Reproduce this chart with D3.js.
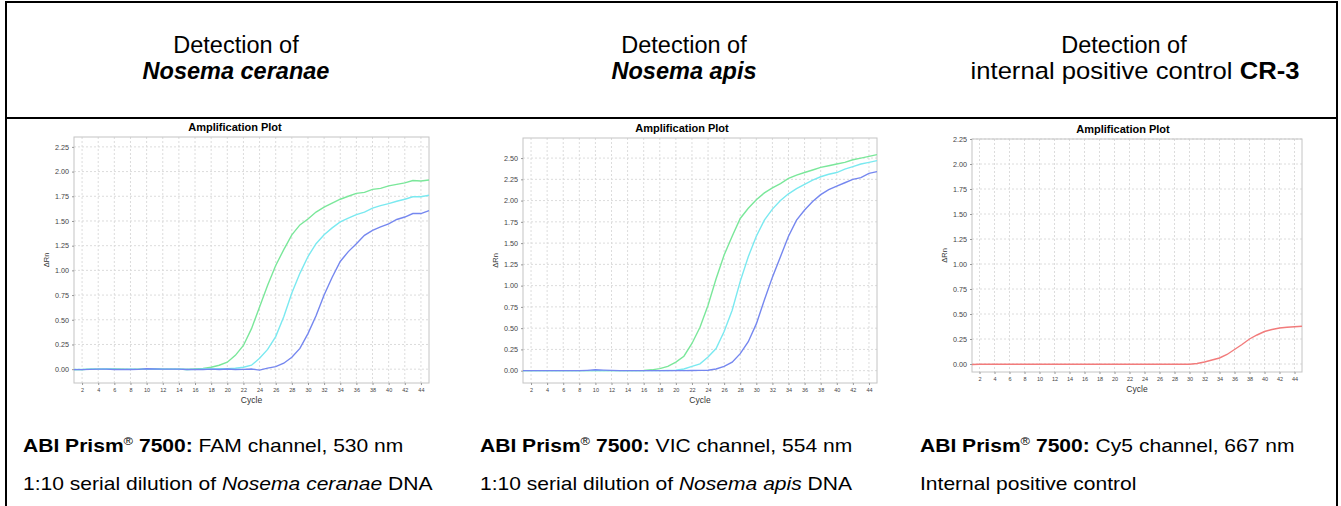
<!DOCTYPE html>
<html lang="en">
<head>
<meta charset="utf-8">
<title>Amplification plots</title>
<script src="https://cdnjs.cloudflare.com/ajax/libs/d3/7.8.5/d3.min.js"></script>
<style>
  body { margin: 0; background: #fff; }
  svg { display: block; font-family: "Liberation Sans", Arial, sans-serif; }
  .grid line { stroke: #dcdcdc; stroke-dasharray: 2,2; }
  .tick text { fill: #444; }
</style>
</head>
<body>
<svg id="chart" width="1341" height="506"></svg>
<script>
// cycles 1..45
var cycles = d3.range(1, 46);
var cycleTicks = d3.range(2, 46, 2);

// Nosema ceranae, FAM channel
var ncGreen = [-0.005,-0.005,0,0,0,0.003,0,-0.002,0,0.003,0.002,0,0,0,-0.003,0.002,0.008,0.02,0.04,0.07,
  0.14,0.24,0.41,0.63,0.85,1.05,1.21,1.36,1.46,1.52,1.59,1.64,1.68,1.72,1.75,1.78,1.79,1.82,1.83,1.855,
  1.87,1.885,1.91,1.905,1.915];
var ncCyan = [-0.004,-0.004,0,0,0.002,0,-0.002,0,-0.002,0.003,0.002,0,0,0,-0.004,-0.002,0.001,0.002,0.004,0.006,
  0.01,0.02,0.04,0.11,0.2,0.33,0.53,0.77,0.97,1.14,1.27,1.36,1.43,1.49,1.53,1.565,1.59,1.63,1.655,1.675,
  1.7,1.72,1.745,1.745,1.76];
var ncBlue = [-0.005,-0.005,-0.002,0,0,-0.004,-0.002,-0.004,-0.002,0.004,0.002,0,0,0,-0.004,-0.002,-0.003,0,-0.004,0.002,
  -0.004,-0.002,0.002,-0.01,0.01,0.025,0.06,0.12,0.21,0.36,0.54,0.75,0.93,1.09,1.19,1.27,1.355,1.405,1.44,1.47,
  1.515,1.54,1.575,1.575,1.605];

// Nosema apis, VIC channel
var naGreen = [0,0,0,0,0,0,0,0,0,0,0,0,0,0,0,0.002,0.01,0.024,0.05,0.1,
  0.17,0.32,0.51,0.77,1.08,1.36,1.58,1.79,1.91,2.01,2.09,2.15,2.2,2.26,2.3,2.33,2.36,2.39,2.41,2.43,
  2.45,2.48,2.5,2.52,2.54];
var naCyan = [0,0,0,0,0,0,0,0,0,0,0,0,0,0,0,0,0,0,0.002,0.005,
  0.02,0.05,0.08,0.16,0.26,0.46,0.71,1.05,1.34,1.58,1.77,1.9,2.0,2.08,2.14,2.19,2.24,2.28,2.31,2.33,
  2.37,2.4,2.43,2.45,2.47];
var naBlue = [0,0,0,0,0,0,0,0,0.004,0.01,0.006,0.004,0,0,0,0,0,0,0,0,
  0,0.002,0.003,0.005,0.02,0.05,0.1,0.2,0.34,0.55,0.83,1.1,1.34,1.58,1.77,1.89,1.99,2.07,2.13,2.17,
  2.21,2.25,2.27,2.32,2.34];

// internal positive control CR-3, Cy5 channel
var cr3Red = [-0.005,-0.003,-0.002,-0.002,-0.002,-0.002,-0.002,-0.002,-0.002,-0.002,-0.002,-0.002,-0.002,-0.002,-0.002,-0.002,-0.002,-0.002,-0.002,-0.002,
  -0.002,-0.002,-0.002,-0.002,-0.002,-0.002,-0.002,-0.002,-0.002,-0.002,0.005,0.02,0.04,0.06,0.095,0.145,0.195,0.25,0.29,0.325,
  0.345,0.36,0.367,0.372,0.378];

var ticks225 = [0,0.25,0.5,0.75,1,1.25,1.5,1.75,2,2.25];
var ticks250 = [0,0.25,0.5,0.75,1,1.25,1.5,1.75,2,2.25,2.5];

var green = "#7ae79a", cyan = "#7ae9f0", blue = "#7587ef", red = "#f27b7b";

var panels = [
  { box: [74, 137, 429, 383], yDom: [-0.14, 2.35], yTicks: ticks225, titleX: 235,
    series: [[ncGreen, green], [ncCyan, cyan], [ncBlue, blue]] },
  { box: [523, 138, 877, 383], yDom: [-0.145, 2.736], yTicks: ticks250, titleX: 682,
    series: [[naGreen, green], [naCyan, cyan], [naBlue, blue]] },
  { box: [972, 139, 1302, 372], yDom: [-0.08, 2.25], yTicks: ticks225, titleX: 1123,
    series: [[cr3Red, red]] }
];

var svg = d3.select("#chart");

// outer frame and divider
svg.append("rect").attr("x", 6).attr("y", 2).attr("width", 1331).attr("height", 520)
  .attr("fill", "none").attr("stroke", "#000").attr("stroke-width", 2);
svg.append("line").attr("x1", 6).attr("x2", 1337).attr("y1", 118).attr("y2", 118)
  .attr("stroke", "#000").attr("stroke-width", 2);

// headers
var headers = [
  { x1: 236, x2: 236, sx: 1, name: [["Nosema ceranae", "italic", "bold"]] },
  { x1: 684, x2: 684, sx: 1, name: [["Nosema apis", "italic", "bold"]] },
  { x1: 1124, x2: 1135, sx: 1.09, name: [["internal positive control ", "normal", "normal"], ["CR-3", "normal", "bold"]] }
];
headers.forEach(function(h) {
  svg.append("text").attr("x", h.x1).attr("y", 53).attr("text-anchor", "middle")
    .attr("font-size", 23.5).text("Detection of");
  var t = svg.append("text").attr("transform", "translate(" + h.x2 + ",79) scale(" + h.sx + ",1)")
    .attr("text-anchor", "middle").attr("font-size", 23.5);
  h.name.forEach(function(p) {
    t.append("tspan").attr("font-style", p[1]).attr("font-weight", p[2]).text(p[0]);
  });
});

// captions (the source text is a little wider than Liberation Sans, so stretch it)
var captions = [
  { x: 23, ch: "FAM channel, 530 nm", l2: [["1:10 serial dilution of ", "normal"], ["Nosema ceranae", "italic"], [" DNA", "normal"]] },
  { x: 480, ch: "VIC channel, 554 nm", l2: [["1:10 serial dilution of ", "normal"], ["Nosema apis", "italic"], [" DNA", "normal"]] },
  { x: 920, ch: "Cy5 channel, 667 nm", l2: [["Internal positive control", "normal"]] }
];
captions.forEach(function(c) {
  var t = svg.append("text").attr("transform", "translate(" + c.x + ",452) scale(1.17,1)").attr("font-size", 18);
  t.append("tspan").attr("font-weight", "bold").text("ABI Prism");
  t.append("tspan").attr("font-size", 11).attr("dy", -7).text("®");
  t.append("tspan").attr("font-weight", "bold").attr("dy", 7).text(" 7500:");
  t.append("tspan").text(" " + c.ch);
  var t2 = svg.append("text").attr("transform", "translate(" + c.x + ",490) scale(1.17,1)").attr("font-size", 18);
  c.l2.forEach(function(p) { t2.append("tspan").attr("font-style", p[1]).text(p[0]); });
});

// amplification plots
panels.forEach(function(p) {
  var x0 = p.box[0], y0 = p.box[1], x1 = p.box[2], y1 = p.box[3];
  var x = d3.scaleLinear().domain([1, 45]).range([x0, x1]);
  var y = d3.scaleLinear().domain(p.yDom).range([y1, y0]);
  var g = svg.append("g");

  g.append("text").attr("x", p.titleX).attr("y", y0 - 6).attr("text-anchor", "middle")
    .attr("font-size", 11).attr("font-weight", "bold").text("Amplification Plot");

  g.append("g").attr("class", "grid")
    .selectAll("line.v").data(cycleTicks).enter().append("line")
    .attr("x1", d => x(d)).attr("x2", d => x(d)).attr("y1", y0).attr("y2", y1);
  g.append("g").attr("class", "grid")
    .selectAll("line.h").data(p.yTicks).enter().append("line")
    .attr("x1", x0).attr("x2", x1).attr("y1", d => y(d)).attr("y2", d => y(d));

  g.append("rect").attr("x", x0).attr("y", y0).attr("width", x1 - x0).attr("height", y1 - y0)
    .attr("fill", "none").attr("stroke", "#c4c4c4");

  var xa = g.append("g").attr("transform", "translate(0," + y1 + ")")
    .call(d3.axisBottom(x).tickValues(cycleTicks).tickSize(2).tickPadding(3));
  xa.select(".domain").remove();
  xa.selectAll("line").attr("stroke", "#999");
  xa.selectAll("text").attr("font-size", 5.5).attr("font-family", "inherit");

  var ya = g.append("g").attr("transform", "translate(" + x0 + ",0)")
    .call(d3.axisLeft(y).tickValues(p.yTicks).tickFormat(d3.format(".2f")).tickSize(2).tickPadding(3));
  ya.select(".domain").remove();
  ya.selectAll("line").attr("stroke", "#999");
  ya.selectAll("text").attr("font-size", 7.2).attr("font-family", "inherit");

  g.append("text").attr("x", (x0 + x1) / 2).attr("y", y1 + 20).attr("text-anchor", "middle")
    .attr("font-size", 8.5).attr("fill", "#333").text("Cycle");
  g.append("text").attr("transform", "translate(" + (x0 - 25) + "," + ((y0 + y1) / 2) + ") rotate(-90)")
    .attr("text-anchor", "middle").attr("font-size", 7.5).attr("fill", "#333").text("ΔRn");

  var line = d3.line().x((d, i) => x(cycles[i])).y(d => y(d));
  p.series.forEach(function(s) {
    g.append("path").datum(s[0]).attr("d", line)
      .attr("fill", "none").attr("stroke", s[1]).attr("stroke-width", 1.4);
  });
});
</script>
</body>
</html>
